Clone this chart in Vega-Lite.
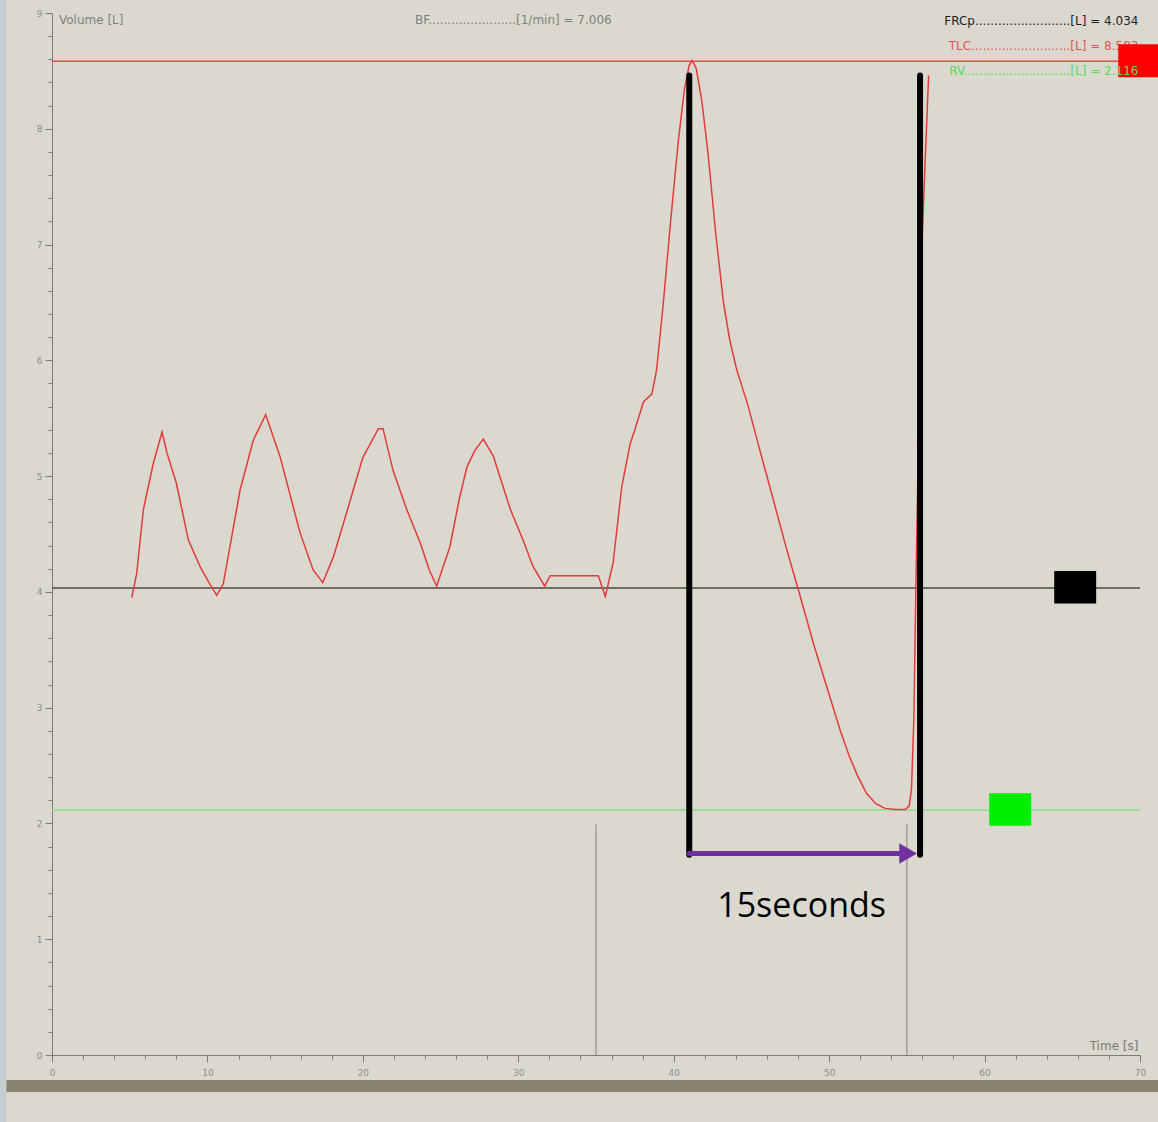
{
  "$schema": "https://vega.github.io/schema/vega-lite/v6.json",
  "width": 1088,
  "height": 1042,
  "autosize": {"type": "none"},
  "padding": {"left": 52, "top": 13, "right": 18, "bottom": 67},
  "background": "#dbd9cf",
  "config": {"view": {"stroke": null}, "font": "DejaVu Sans"},
  "datasets": {
    "curve": [
      {"t": 5.13, "v": 3.95}, {"t": 5.45, "v": 4.16}, {"t": 5.88, "v": 4.71}, {"t": 6.5, "v": 5.1}, {"t": 7.08, "v": 5.38},
      {"t": 7.4, "v": 5.2}, {"t": 8.0, "v": 4.94}, {"t": 8.77, "v": 4.45}, {"t": 9.52, "v": 4.22}, {"t": 10.1, "v": 4.08},
      {"t": 10.6, "v": 3.97}, {"t": 11.02, "v": 4.07}, {"t": 12.1, "v": 4.88}, {"t": 12.95, "v": 5.31}, {"t": 13.75, "v": 5.53},
      {"t": 14.67, "v": 5.17}, {"t": 15.96, "v": 4.51}, {"t": 16.8, "v": 4.19}, {"t": 17.42, "v": 4.08}, {"t": 18.1, "v": 4.3},
      {"t": 19.1, "v": 4.75}, {"t": 20.0, "v": 5.16}, {"t": 21.0, "v": 5.41}, {"t": 21.3, "v": 5.41}, {"t": 21.94, "v": 5.05},
      {"t": 22.8, "v": 4.72}, {"t": 23.7, "v": 4.42}, {"t": 24.3, "v": 4.18}, {"t": 24.75, "v": 4.05}, {"t": 25.6, "v": 4.39},
      {"t": 26.2, "v": 4.8}, {"t": 26.7, "v": 5.08}, {"t": 27.2, "v": 5.22}, {"t": 27.75, "v": 5.32}, {"t": 28.4, "v": 5.17},
      {"t": 29.5, "v": 4.71}, {"t": 30.3, "v": 4.45}, {"t": 30.95, "v": 4.22}, {"t": 31.7, "v": 4.05}, {"t": 32.05, "v": 4.14},
      {"t": 35.15, "v": 4.14}, {"t": 35.6, "v": 3.96}, {"t": 36.1, "v": 4.25}, {"t": 36.66, "v": 4.91}, {"t": 37.2, "v": 5.28},
      {"t": 37.5, "v": 5.4}, {"t": 38.05, "v": 5.64}, {"t": 38.6, "v": 5.71}, {"t": 38.9, "v": 5.92}, {"t": 39.3, "v": 6.45},
      {"t": 39.8, "v": 7.2}, {"t": 40.3, "v": 7.9}, {"t": 40.7, "v": 8.35}, {"t": 41.0, "v": 8.55}, {"t": 41.2, "v": 8.59},
      {"t": 41.45, "v": 8.52}, {"t": 41.8, "v": 8.25}, {"t": 42.2, "v": 7.8}, {"t": 42.7, "v": 7.1}, {"t": 43.2, "v": 6.5},
      {"t": 43.6, "v": 6.18}, {"t": 44.05, "v": 5.92}, {"t": 44.8, "v": 5.6}, {"t": 45.55, "v": 5.22}, {"t": 46.4, "v": 4.8},
      {"t": 47.2, "v": 4.4}, {"t": 48.1, "v": 3.98}, {"t": 49.0, "v": 3.55}, {"t": 49.8, "v": 3.2}, {"t": 50.7, "v": 2.81},
      {"t": 51.3, "v": 2.58}, {"t": 51.8, "v": 2.42}, {"t": 52.4, "v": 2.26}, {"t": 53.0, "v": 2.17}, {"t": 53.6, "v": 2.13},
      {"t": 54.3, "v": 2.12}, {"t": 54.9, "v": 2.12}, {"t": 55.15, "v": 2.15}, {"t": 55.3, "v": 2.3}, {"t": 55.45, "v": 2.9},
      {"t": 55.6, "v": 4.2}, {"t": 55.8, "v": 5.7}, {"t": 56.0, "v": 7.1}, {"t": 56.2, "v": 7.8}, {"t": 56.4, "v": 8.46}
    ],
    "levels": [
      {"level": "TLC", "v": 8.583},
      {"level": "FRC", "v": 4.034},
      {"level": "RV", "v": 2.116}
    ],
    "cursors": [
      {"t": 35, "v0": 0, "v1": 1.99},
      {"t": 55, "v0": 0, "v1": 1.99}
    ],
    "brackets": [
      {"t": 41.0, "v0": 1.73, "v1": 8.46},
      {"t": 55.85, "v0": 1.73, "v1": 8.46}
    ],
    "arrow": [{"t0": 41.0, "t1": 55.0, "v": 1.74}],
    "arrowhead": [{"t": 55.08, "v": 1.74}],
    "squares": [
      {"name": "FRC", "t0": 64.48, "t1": 67.18, "v0": 3.9, "v1": 4.18},
      {"name": "RV", "t0": 60.3, "t1": 63.0, "v0": 1.98, "v1": 2.26}
    ],
    "redsquare": [{"name": "TLC", "t0": 68.6, "t1": 71.3, "v0": 8.445, "v1": 8.73}],
    "band": [{"t0": -3.4, "t1": 71.3, "v0": -0.32, "v1": -0.216}],
    "strip": [{"t0": -3.4, "t1": -2.93, "v0": -0.6, "v1": 9.2}],
    "leftlabels": [
      {"label": "Volume [L]", "t": 0.45, "v": 8.94},
      {"label": "BF.......................[1/min] = 7.006", "t": 23.36, "v": 8.94}
    ],
    "frc": [{"label": "FRCp.........................[L] = 4.034", "t": 69.9, "v": 8.93}],
    "tlc": [{"label": "TLC..........................[L] = 8.583", "t": 69.9, "v": 8.715}],
    "rv": [{"label": "RV............................[L] = 2.116", "t": 69.9, "v": 8.5}],
    "timelabel": [{"label": "Time [s]", "t": 69.9, "v": 0.08}],
    "note": [{"label": "15seconds", "t": 48.23, "v": 1.19}]
  },
  "layer": [
    {
      "data": {"name": "band"},
      "mark": {"type": "rect", "color": "#8a8272", "clip": false},
      "encoding": {
        "x": {"field": "t0", "type": "quantitative", "scale": {"domain": [0, 70], "nice": false, "zero": false},
          "axis": {
            "values": [0,2,4,6,8,10,12,14,16,18,20,22,24,26,28,30,32,34,36,38,40,42,44,46,48,50,52,54,56,58,60,62,64,66,68,70],
            "tickCount": 500,
            "labelExpr": "abs(datum.value - round(datum.value/10)*10) < 0.01 ? format(datum.value, 'd') : ''",
            "labelOverlap": false, "labelFlush": false, "labelBound": false,
            "title": null, "grid": false,
            "tickSize": {"condition": {"test": "abs(datum.value - round(datum.value/10)*10) < 0.01", "value": 7}, "value": 4},
            "tickColor": "#7c7c7c", "domainColor": "#7c7c7c", "labelColor": "#8c8c8c",
            "labelFontSize": 9, "labelPadding": 6, "labelFont": "DejaVu Sans"
          }},
        "x2": {"field": "t1"},
        "y": {"field": "v0", "type": "quantitative", "scale": {"domain": [0, 9], "nice": false, "zero": false},
          "axis": {
            "values": [0,0.2,0.4,0.6,0.8,1,1.2,1.4,1.6,1.8,2,2.2,2.4,2.6,2.8,3,3.2,3.4,3.6,3.8,4,4.2,4.4,4.6,4.8,5,5.2,5.4,5.6,5.8,6,6.2,6.4,6.6,6.8,7,7.2,7.4,7.6,7.8,8,8.2,8.4,8.6,8.8,9],
            "tickCount": 500,
            "labelExpr": "abs(datum.value - round(datum.value)) < 0.01 ? format(datum.value, 'd') : ''",
            "labelOverlap": false, "labelFlush": false, "labelBound": false,
            "title": null, "grid": false,
            "tickSize": {"condition": {"test": "abs(datum.value - round(datum.value)) < 0.01", "value": 7}, "value": 4},
            "tickColor": "#7c7c7c", "domainColor": "#7c7c7c", "labelColor": "#8c8c8c",
            "labelFontSize": 9, "labelPadding": 3, "labelFont": "DejaVu Sans"
          }},
        "y2": {"field": "v1"}
      }
    },
    {
      "data": {"name": "strip"},
      "mark": {"type": "rect", "color": "#c6cdd2", "clip": false},
      "encoding": {
        "x": {"field": "t0", "type": "quantitative"},
        "x2": {"field": "t1"},
        "y": {"field": "v0", "type": "quantitative"},
        "y2": {"field": "v1"}
      }
    },
    {
      "data": {"name": "levels"},
      "mark": {"type": "rule", "strokeWidth": 1.6},
      "encoding": {
        "y": {"field": "v", "type": "quantitative"},
        "color": {"field": "level", "type": "nominal", "legend": null,
          "scale": {"domain": ["TLC", "FRC", "RV"], "range": ["#e64a4a", "#4a4a46", "#8cd88c"]}}
      }
    },
    {
      "data": {"name": "cursors"},
      "mark": {"type": "rule", "color": "#a09c94", "strokeWidth": 1.5},
      "encoding": {
        "x": {"field": "t", "type": "quantitative"},
        "y": {"field": "v0", "type": "quantitative"},
        "y2": {"field": "v1"}
      }
    },
    {
      "data": {"name": "curve"},
      "mark": {"type": "line", "color": "#e23a3a", "strokeWidth": 1.5},
      "encoding": {
        "x": {"field": "t", "type": "quantitative"},
        "y": {"field": "v", "type": "quantitative"},
        "order": {"field": "t", "type": "quantitative"}
      }
    },
    {
      "data": {"name": "brackets"},
      "mark": {"type": "rule", "color": "#000000", "strokeWidth": 6, "strokeCap": "round"},
      "encoding": {
        "x": {"field": "t", "type": "quantitative"},
        "y": {"field": "v0", "type": "quantitative"},
        "y2": {"field": "v1"}
      }
    },
    {
      "data": {"name": "arrow"},
      "mark": {"type": "rule", "color": "#7030a0", "strokeWidth": 5, "strokeCap": "round"},
      "encoding": {
        "x": {"field": "t0", "type": "quantitative"},
        "x2": {"field": "t1"},
        "y": {"field": "v", "type": "quantitative"}
      }
    },
    {
      "data": {"name": "arrowhead"},
      "mark": {"type": "point", "shape": "triangle-right", "filled": true, "color": "#7030a0", "size": 420, "opacity": 1},
      "encoding": {
        "x": {"field": "t", "type": "quantitative"},
        "y": {"field": "v", "type": "quantitative"}
      }
    },
    {
      "data": {"name": "squares"},
      "mark": {"type": "rect", "clip": false},
      "encoding": {
        "x": {"field": "t0", "type": "quantitative"},
        "x2": {"field": "t1"},
        "y": {"field": "v0", "type": "quantitative"},
        "y2": {"field": "v1"},
        "fill": {"field": "name", "type": "nominal", "legend": null,
          "scale": {"domain": ["FRC", "RV"], "range": ["#000000", "#00ee00"]}}
      }
    },
    {
      "data": {"name": "leftlabels"},
      "mark": {"type": "text", "align": "left", "baseline": "middle", "fontSize": 12, "color": "#808080", "font": "DejaVu Sans"},
      "encoding": {
        "x": {"field": "t", "type": "quantitative"},
        "y": {"field": "v", "type": "quantitative"},
        "text": {"field": "label"}
      }
    },
    {
      "data": {"name": "frc"},
      "mark": {"type": "text", "align": "right", "baseline": "middle", "fontSize": 12, "color": "#1e1e1e", "font": "DejaVu Sans"},
      "encoding": {
        "x": {"field": "t", "type": "quantitative"},
        "y": {"field": "v", "type": "quantitative"},
        "text": {"field": "label"}
      }
    },
    {
      "data": {"name": "tlc"},
      "mark": {"type": "text", "align": "right", "baseline": "middle", "fontSize": 12, "color": "#e05555", "font": "DejaVu Sans"},
      "encoding": {
        "x": {"field": "t", "type": "quantitative"},
        "y": {"field": "v", "type": "quantitative"},
        "text": {"field": "label"}
      }
    },
    {
      "data": {"name": "redsquare"},
      "mark": {"type": "rect", "clip": false, "color": "#ff0000"},
      "encoding": {
        "x": {"field": "t0", "type": "quantitative"},
        "x2": {"field": "t1"},
        "y": {"field": "v0", "type": "quantitative"},
        "y2": {"field": "v1"}
      }
    },
    {
      "data": {"name": "rv"},
      "mark": {"type": "text", "align": "right", "baseline": "middle", "fontSize": 12, "color": "#55dd55", "font": "DejaVu Sans"},
      "encoding": {
        "x": {"field": "t", "type": "quantitative"},
        "y": {"field": "v", "type": "quantitative"},
        "text": {"field": "label"}
      }
    },
    {
      "data": {"name": "timelabel"},
      "mark": {"type": "text", "align": "right", "baseline": "middle", "fontSize": 12, "color": "#787878", "font": "DejaVu Sans"},
      "encoding": {
        "x": {"field": "t", "type": "quantitative"},
        "y": {"field": "v", "type": "quantitative"},
        "text": {"field": "label"}
      }
    },
    {
      "data": {"name": "note"},
      "mark": {"type": "text", "align": "center", "baseline": "alphabetic", "fontSize": 34, "color": "#000000", "font": "Open Sans"},
      "encoding": {
        "x": {"field": "t", "type": "quantitative"},
        "y": {"field": "v", "type": "quantitative"},
        "text": {"field": "label"}
      }
    }
  ],
  "resolve": {"scale": {"color": "independent", "fill": "independent"}}
}
